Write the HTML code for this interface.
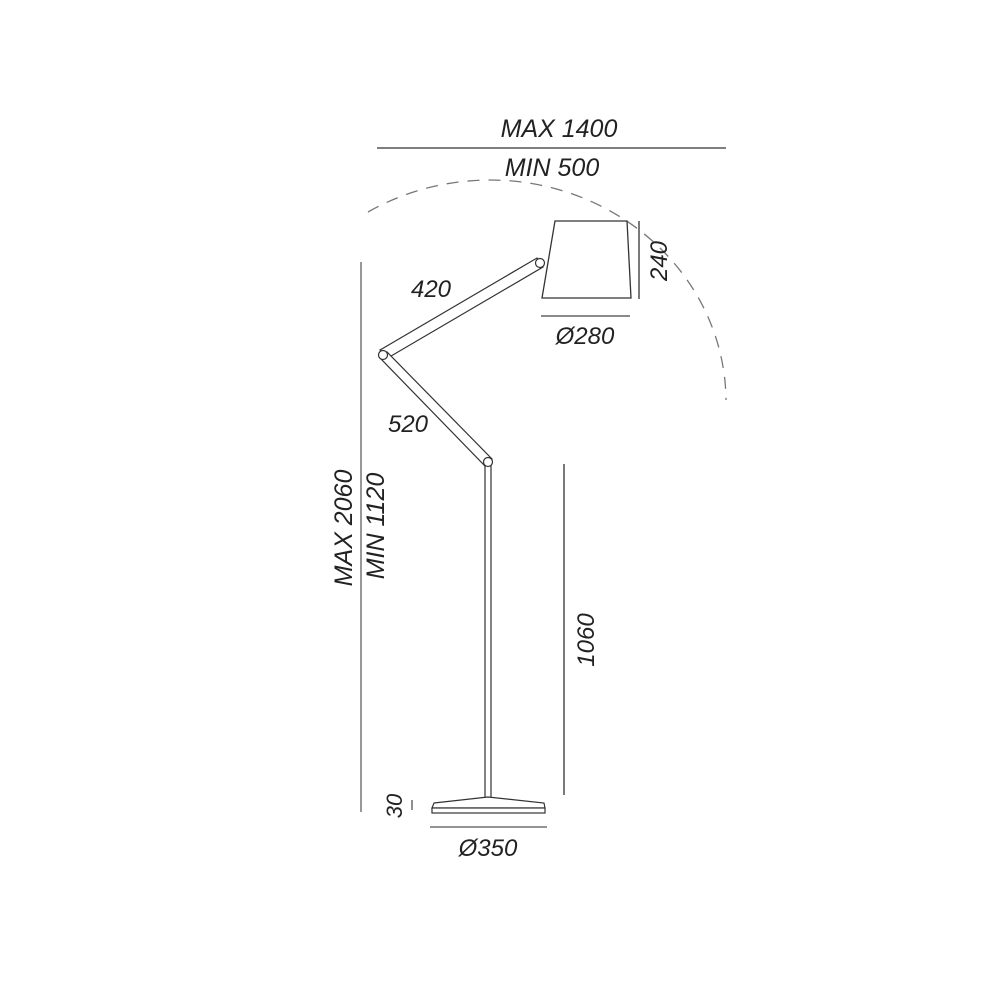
<!DOCTYPE html>
<html><head><meta charset="utf-8"><style>
html,body{margin:0;padding:0;background:#fff;}
svg{display:block;}
text{font-family:"Liberation Sans",sans-serif;font-style:italic;fill:#222;}
</style></head><body>
<svg width="990" height="990" viewBox="0 0 990 990" xmlns="http://www.w3.org/2000/svg">
<rect width="990" height="990" fill="#fff"/>
<!-- top dims -->
<text x="559" y="137" font-size="25" text-anchor="middle" transform="scale(1,1)">MAX  1400</text>
<line x1="377" y1="148" x2="726" y2="148" stroke="#555" stroke-width="1.5"/>
<text x="552" y="176" font-size="25" text-anchor="middle">MIN 500</text>
<!-- dashed arc -->
<path d="M368,212 A236,222 0 0 1 726,400" fill="none" stroke="#777" stroke-width="1.3" stroke-dasharray="12,9"/>
<!-- shade -->
<polygon points="555,221 627,221 631,298 542,298" fill="#fff" stroke="#333" stroke-width="1.3"/>
<line x1="639" y1="221" x2="639" y2="299" stroke="#333" stroke-width="1.3"/>
<text x="0" y="0" font-size="24" text-anchor="middle" transform="translate(667,261) rotate(-90)">240</text>
<line x1="541" y1="316" x2="630" y2="316" stroke="#444" stroke-width="1.3"/>
<text x="585" y="344" font-size="24" text-anchor="middle">Ø280</text>
<!-- arms -->
<g stroke="#333" stroke-width="1.2" fill="#fff">
<polygon points="537,258 543,267 386,359 380,350"/>
<polygon points="380,358 387,352 492,459 485,466"/>
<rect x="485" y="464" width="6" height="335"/>
<circle cx="540" cy="263" r="4.5"/>
<circle cx="383" cy="355" r="4.5"/>
<circle cx="488" cy="462" r="4.5"/>
</g>
<text x="431" y="297" font-size="24" text-anchor="middle">420</text>
<text x="408" y="432" font-size="24" text-anchor="middle">520</text>
<!-- base -->
<polygon points="434,803 488,797 544,803 545,808 432,808" fill="#fff" stroke="#333" stroke-width="1.2"/>
<rect x="432" y="808" width="113" height="5" fill="#fff" stroke="#333" stroke-width="1.2"/>
<line x1="430" y1="827" x2="547" y2="827" stroke="#555" stroke-width="1.3"/>
<text x="488" y="856" font-size="24" text-anchor="middle">Ø350</text>
<line x1="412" y1="800" x2="412" y2="810" stroke="#444" stroke-width="1.2"/>
<text x="0" y="0" font-size="22" text-anchor="middle" transform="translate(402,806) rotate(-90)">30</text>
<!-- left vertical -->
<line x1="361" y1="262" x2="361" y2="812" stroke="#777" stroke-width="1.5"/>
<text x="0" y="0" font-size="25" text-anchor="middle" transform="translate(352,528) rotate(-90)">MAX  2060</text>
<text x="0" y="0" font-size="25" text-anchor="middle" transform="translate(384,526) rotate(-90)">MIN 1120</text>
<!-- right vertical -->
<line x1="564" y1="464" x2="564" y2="795" stroke="#333" stroke-width="1.3"/>
<text x="0" y="0" font-size="24" text-anchor="middle" transform="translate(594,640) rotate(-90)">1060</text>
</svg>
</body></html>
